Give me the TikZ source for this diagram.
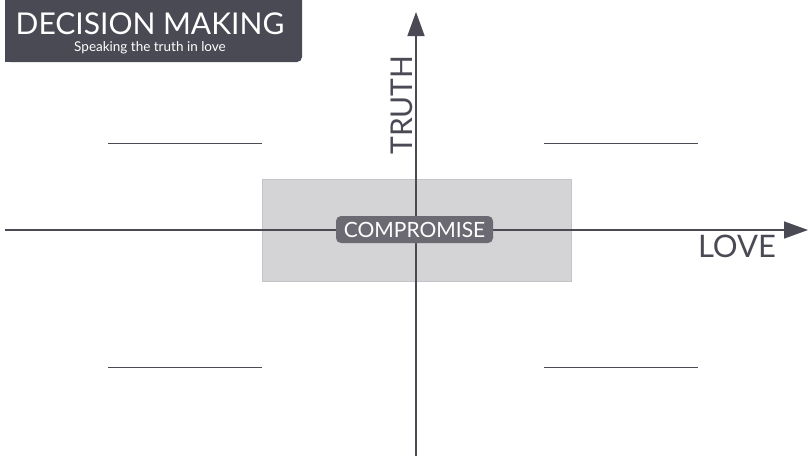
\documentclass[tikz,border=0pt]{standalone}
\usepackage{fontspec}
\setmainfont{Lato}
\usetikzlibrary{arrows.meta}
\definecolor{dark}{HTML}{4A4A55}
\definecolor{boxgray}{HTML}{D4D4D6}
\definecolor{boxedge}{HTML}{C4C4C8}
\definecolor{pill}{HTML}{6B6A72}
\tikzset{
  axis/.style={draw=dark, line width=1.5pt, -{Triangle[length=24pt,width=17pt]}},
  blank/.style={draw=dark, line width=1pt},
  every node/.style={inner sep=0pt, outer sep=0pt}
}
\begin{document}
\begin{tikzpicture}[x=1pt,y=-1pt]
\useasboundingbox (0,0) rectangle (810,458);
% title box
\fill[dark, rounded corners=5pt] (5,-10) -- (302,-10) -- (302,62) -- (5,62) [sharp corners] -- cycle;
\fill[dark] (5,-10) rectangle (100,62);
\fill[dark] (5,-10) rectangle (302,20);
\node[text=white, font=\fontsize{30}{30}\selectfont, anchor=base] (title) at (150,34) {DECISION MAKING};
\node[text=white, font=\fontsize{13.5}{13.5}\selectfont, anchor=base] (sub) at (150,51) {Speaking the truth in love};
% compromise region
\node[fill=boxgray, draw=boxedge, line width=0.6pt, minimum width=309pt, minimum height=102pt] (region) at (416.5,230) {};
% axes
\coordinate (vb) at (416,456);
\coordinate (vt) at (416,12);
\coordinate (hl) at (5,230);
\coordinate (hr) at (808,230);
\draw[axis] (vb) -- (vt);
\draw[axis] (hl) -- (hr);
% labels
\node[text=dark, font=\fontsize{30}{30}\selectfont, rotate=90] (truth) at (402,105) {TRUTH};
\node[text=dark, font=\fontsize{31}{31}\selectfont, anchor=base] (love) at (737,257) {LOVE};
\node[fill=pill, text=white, rounded corners=5pt, minimum width=157pt, minimum height=27pt, font=\fontsize{21}{21}\selectfont] (comp) at (414.5,229.5) {COMPROMISE};
% blanks
\coordinate (a1) at (108,143); \coordinate (a2) at (262,143);
\coordinate (b1) at (544,143); \coordinate (b2) at (698,143);
\coordinate (c1) at (108,367); \coordinate (c2) at (262,367);
\coordinate (d1) at (544,367); \coordinate (d2) at (698,367);
\draw[blank] (a1) -- (a2);
\draw[blank] (b1) -- (b2);
\draw[blank] (c1) -- (c2);
\draw[blank] (d1) -- (d2);
\end{tikzpicture}
\end{document}
